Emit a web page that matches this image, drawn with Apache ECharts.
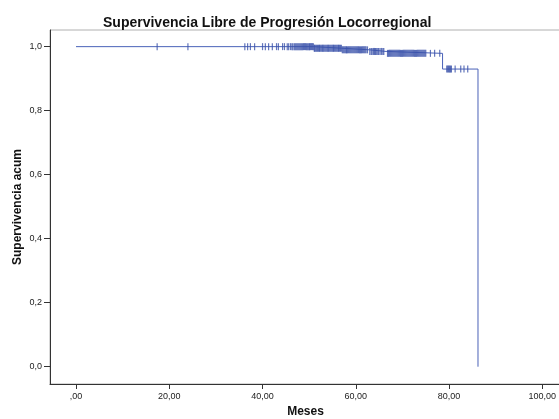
<!DOCTYPE html>
<html>
<head>
<meta charset="utf-8">
<script src="https://cdn.jsdelivr.net/npm/echarts@6/dist/echarts.min.js"></script>
<style>html,body{margin:0;padding:0;background:#fff;}#c{width:559px;height:419px;}</style>
</head>
<body>
<div id="c"></div>
<script>
// Kaplan-Meier step points (time in months, cumulative survival)
var stepTimes = [0, 51, 57, 63, 66.5, 78.6, 86.2];
var stepSurv  = [1, 0.995, 0.990, 0.985, 0.979, 0.930, 0];
// Censored observations (months)
var censorTimes = [17.4, 24.0,
  36.2, 36.8, 37.4, 38.3, 40.0, 40.6, 41.3, 42.1, 43.0, 43.4, 44.3, 44.7, 45.3, 45.6, 46.0, 46.3, 46.5, 46.8,
  47.0, 47.2, 47.4, 47.6, 47.8, 48.0, 48.2, 48.4, 48.6, 48.8, 49.0, 49.2, 49.4, 49.6, 49.8, 50.0, 50.1, 50.3,
  50.5, 50.7, 50.9, 51.1, 51.2, 51.4, 51.6, 51.8, 52.0, 52.2, 52.3, 52.5, 52.7, 52.9, 53.0, 53.2, 53.4, 53.6,
  53.8, 54.0, 54.1, 54.3, 54.5, 54.7, 54.9, 55.1, 55.2, 55.4, 55.6, 55.8, 56.0, 56.2, 56.3, 56.5, 56.7, 56.9,
  57.1, 57.3, 57.5, 57.7, 57.9, 58.0, 58.2, 58.4, 58.6, 58.8, 59.0, 59.2, 59.4, 59.6, 59.8, 60.0, 60.2, 60.4,
  60.6, 60.8, 61.0, 61.2, 61.4, 61.6, 61.8, 62.0, 62.2, 62.5, 63.0, 63.3, 63.5, 63.8, 64.0, 64.2, 64.4, 64.7,
  64.9, 65.2, 65.5, 65.8, 66.0, 66.8, 67.0, 67.2, 67.4, 67.6, 67.8, 68.0, 68.2, 68.4, 68.6, 68.8, 69.0, 69.2,
  69.4, 69.6, 69.8, 70.0, 70.2, 70.4, 70.6, 70.8, 71.0, 71.2, 71.4, 71.6, 71.8, 72.0, 72.2, 72.4, 72.6, 72.8,
  73.0, 73.2, 73.4, 73.6, 73.8, 74.0, 74.2, 74.4, 74.6, 74.8, 75.0, 76.0, 76.9, 78.0,
  79.5, 79.7, 79.9, 80.1, 80.3, 80.5, 81.3, 82.5, 83.2, 84.0];
var xTicks = [0, 20, 40, 60, 80, 100];
var xTickLabels = [',00', '20,00', '40,00', '60,00', '80,00', '100,00'];
var yTicks = [0, 0.2, 0.4, 0.6, 0.8, 1.0];
var yTickLabels = ['0,0', '0,2', '0,4', '0,6', '0,8', '1,0'];

function survAt(t) {
  var s = stepSurv[0];
  for (var i = 0; i < stepTimes.length; i++) { if (stepTimes[i] <= t) s = stepSurv[i]; }
  return s;
}
var lineData = stepTimes.map(function (t, i) { return [t, stepSurv[i]]; });
var censorData = censorTimes.map(function (t) { return [t, survAt(t)]; });

var chart = echarts.init(document.getElementById('c'), null, {renderer: 'canvas'});
var lblFont = {fontFamily: 'Arial, "Liberation Sans", sans-serif', fontSize: 9, color: '#222'};
chart.setOption({
  animation: false,
  backgroundColor: '#fff',
  title: {
    text: 'Supervivencia Libre de Progresión Locorregional',
    left: 98, top: 11,
    textStyle: {fontFamily: 'Arial, "Liberation Sans", sans-serif', fontSize: 14, fontWeight: 'bold', color: '#111'}
  },
  grid: {left: 50, right: -2, top: 30, bottom: 35, show: true, borderColor: '#b0b0b0', borderWidth: 1,
         containLabel: false, outerBoundsMode: 'none'},
  xAxis: {
    type: 'value', min: -5.576, max: 104.0,
    name: 'Meses', nameLocation: 'middle', nameGap: 22, nameMoveOverlap: false,
    nameTextStyle: {fontFamily: 'Arial, "Liberation Sans", sans-serif', fontSize: 12, fontWeight: 'bold', color: '#111'},
    axisLine: {show: true, onZero: false, lineStyle: {color: '#333', width: 1}},
    axisTick: {show: true, length: 5, customValues: xTicks, lineStyle: {color: '#333'}},
    axisLabel: Object.assign({margin: 8, customValues: xTicks, formatter: function (v) {
      var i = xTicks.indexOf(Math.round(v)); return i >= 0 ? xTickLabels[i] : ''; }}, lblFont),
    splitLine: {show: false}
  },
  yAxis: {
    type: 'value', min: -0.054, max: 1.052,
    name: 'Supervivencia acum', nameLocation: 'middle', nameGap: 26, nameMoveOverlap: false,
    nameTextStyle: {fontFamily: 'Arial, "Liberation Sans", sans-serif', fontSize: 12, fontWeight: 'bold', color: '#111'},
    axisLine: {show: true, onZero: false, lineStyle: {color: '#333', width: 1}},
    axisTick: {show: true, length: 6, customValues: yTicks, lineStyle: {color: '#333'}},
    axisLabel: Object.assign({margin: 8, customValues: yTicks, formatter: function (v) {
      var i = yTicks.indexOf(Math.round(v * 10) / 10); return i >= 0 ? yTickLabels[i] : ''; }}, lblFont),
    splitLine: {show: false}
  },
  series: [
    {type: 'line', step: 'end', data: lineData, symbol: 'none',
     lineStyle: {color: '#4a62b8', width: 1}, z: 2},
    {type: 'scatter', data: censorData, symbol: 'rect', symbolSize: [1.2, 7],
     itemStyle: {color: '#3b52aa'}, z: 3}
  ]
});
</script>
</body>
</html>
